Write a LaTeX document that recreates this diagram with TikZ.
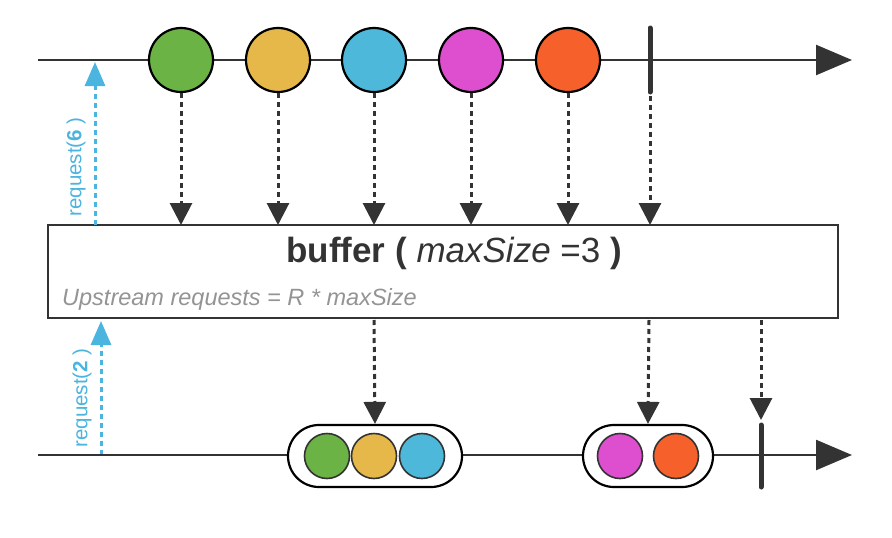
\documentclass[tikz,border=0pt]{standalone}
\usepackage{fontspec}
\setmainfont{Liberation Sans}
\usetikzlibrary{arrows.meta}
\definecolor{dk}{HTML}{333333}
\definecolor{cgreen}{HTML}{6AB344}
\definecolor{cyellow}{HTML}{E6B84A}
\definecolor{ccyan}{HTML}{4DB8D9}
\definecolor{cmag}{HTML}{DD4FCF}
\definecolor{corange}{HTML}{F6602A}
\definecolor{reqblue}{HTML}{4BB4DF}
\tikzset{
  timeline/.style={draw=dk, line width=2.4pt, -{Triangle[length=36pt,width=30pt]}},
  marble/.style={circle, draw=black, line width=2.2pt, minimum size=64pt, inner sep=0pt},
  smallmarble/.style={circle, draw=black!80, line width=1.6pt, minimum size=45pt, inner sep=0pt},
  emitarrow/.style={draw=dk, line width=3pt, dash pattern=on 5pt off 4pt, -{Triangle[length=22pt,width=22pt]}},
  reqarrow/.style={draw=reqblue, line width=3pt, dash pattern=on 5pt off 4pt, -{Triangle[length=24pt,width=20pt]}},
  reqlabel/.style={text=reqblue, font=\fontsize{20.5}{20.5}\selectfont, rotate=90, inner sep=0pt},
  termbar/.style={draw=dk, line width=5pt, line cap=round},
  group/.style={draw=black, line width=2.2pt, rounded corners=31pt, inner sep=0pt},
  opbox/.style={draw=dk, line width=2.2pt, fill=white}
}
\begin{document}
\begin{tikzpicture}[x=1pt,y=-1pt]
\useasboundingbox (0,0) rectangle (892,538);
% top timeline
\coordinate (t0) at (38,60);
\coordinate (t1) at (852,60);
\draw[timeline] (t0) -- (t1);
\node[marble, fill=cgreen] (m1) at (181,60) {};
\node[marble, fill=cyellow] (m2) at (278,60) {};
\node[marble, fill=ccyan] (m3) at (374,60) {};
\node[marble, fill=cmag] (m4) at (471,60) {};
\node[marble, fill=corange] (m5) at (568,60) {};
\coordinate (tb1) at (650,28);
\coordinate (tb2) at (650,92);
\draw[termbar] (tb1) -- (tb2);
% operator box
\node[opbox, minimum width=790pt, minimum height=93pt, inner sep=0pt] (box) at (443,271.5) {};
\node[font=\fontsize{35}{35}\selectfont, text=dk, anchor=base] (title) at (454,262) {\textbf{buffer (} \textit{maxSize} =3 \textbf{)}};
\node[font=\fontsize{23.5}{23.5}\selectfont\itshape, text=black!42, anchor=base west, inner sep=0pt] (sub) at (62,305) {Upstream requests = R * maxSize};
% arrows into box
\coordinate (b1) at (181,225);
\coordinate (b2) at (278,225);
\coordinate (b3) at (374,225);
\coordinate (b4) at (471,225);
\coordinate (b5) at (568,225);
\coordinate (b6) at (650,225);
\coordinate (tb3) at (650,96);
\draw[emitarrow] (m1.south) -- (b1);
\draw[emitarrow] (m2.south) -- (b2);
\draw[emitarrow] (m3.south) -- (b3);
\draw[emitarrow] (m4.south) -- (b4);
\draw[emitarrow] (m5.south) -- (b5);
\draw[emitarrow] (tb3) -- (b6);
% request arrows
\coordinate (r6a) at (95,225);
\coordinate (r6b) at (95,62);
\draw[reqarrow] (r6a) -- (r6b);
\node[reqlabel] (l6) at (76,167) {request(\textbf{6} )};
\coordinate (r2a) at (101,455);
\coordinate (r2b) at (101,321);
\draw[reqarrow] (r2a) -- (r2b);
\node[reqlabel] (l2) at (82,398) {request(\textbf{2} )};
% bottom timeline
\coordinate (u0) at (38,455);
\coordinate (u1) at (852,455);
\draw[timeline] (u0) -- (u1);
\node[group, fill=white, minimum width=174pt, minimum height=62pt] (g1) at (375,456) {};
\node[smallmarble, fill=cgreen] at (327,456) {};
\node[smallmarble, fill=cyellow] at (374,456) {};
\node[smallmarble, fill=ccyan] at (422,456) {};
\node[group, fill=white, minimum width=130pt, minimum height=62pt] (g2) at (648,456) {};
\node[smallmarble, fill=cmag] at (620,456) {};
\node[smallmarble, fill=corange] at (676,456) {};
\coordinate (ub1) at (761,425);
\coordinate (ub2) at (761,487);
\draw[termbar] (ub1) -- (ub2);
% arrows out of box
\coordinate (o1) at (374,320);
\coordinate (o2) at (649,320);
\coordinate (o3) at (761,320);
\coordinate (ue) at (761,420);
\draw[emitarrow] (o1) -- (g1.north);
\draw[emitarrow] (o2) -- (g2.north);
\draw[emitarrow] (o3) -- (ue);
\end{tikzpicture}
\end{document}
